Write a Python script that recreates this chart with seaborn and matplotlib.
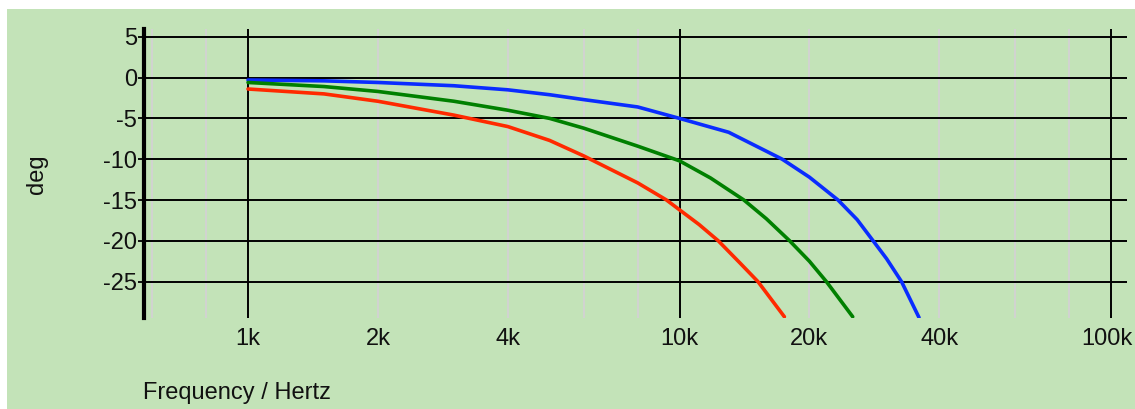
import numpy as np
import pandas as pd
import matplotlib
import matplotlib.pyplot as plt
import matplotlib.transforms as mtransforms
import seaborn as sns
from matplotlib.patches import Rectangle
from matplotlib.ticker import FixedLocator, FixedFormatter

# phase curves (Hz, degrees)
blue_freq = [1000, 1500, 2000, 3000, 4000, 5000, 6000, 8000, 10000, 13000, 17300,
             20000, 23300, 25800, 28100, 30200, 32700, 35900]
blue_deg = [-0.3, -0.4, -0.6, -1.0, -1.5, -2.1, -2.7, -3.6, -5.0, -6.7, -10.0,
            -12.2, -15.0, -17.4, -20.0, -22.2, -25.0, -29.4]

green_freq = [1000, 1500, 2000, 3000, 4000, 5000, 6000, 8000, 10000, 11800, 14100, 15900,
              18000, 20000, 21900, 25200]
green_deg = [-0.6, -1.1, -1.7, -2.9, -4.0, -5.0, -6.2, -8.4, -10.2, -12.3, -15.0, -17.3,
             -20.0, -22.5, -25.0, -29.3]

red_freq = [1000, 1500, 2000, 3000, 4000, 5000, 6000, 8000, 9330, 10000, 11100, 12300,
            13800, 15200, 17500]
red_deg = [-1.4, -2.0, -2.9, -4.6, -6.0, -7.7, -9.6, -12.9, -15.0, -16.2, -18.0, -20.0,
           -22.7, -25.0, -29.3]

y_ticks = [5, 0, -5, -10, -15, -20, -25]
decade_ticks = [1000, 10000, 100000]
decade_labels = ["1k", "10k", "100k"]
minor_ticks = [600, 800, 2000, 4000, 6000, 8000, 20000, 40000, 60000, 80000]
minor_labels = ["", "", "2k", "4k", "", "", "20k", "40k", "", ""]

df = pd.concat([
    pd.DataFrame({"f": blue_freq, "deg": blue_deg, "curve": "a"}),
    pd.DataFrame({"f": green_freq, "deg": green_deg, "curve": "b"}),
    pd.DataFrame({"f": red_freq, "deg": red_deg, "curve": "c"}),
])
colors = {"a": "#0a2cff", "b": "#008000", "c": "#ff2a00"}

sns.set_style("white")
plt.rcParams["font.family"] = ["Liberation Sans", "DejaVu Sans"]
plt.rcParams["axes.unicode_minus"] = False

bg = "#c3e3b8"
W, H = 1135, 409
fig = plt.figure(figsize=(W / 100, H / 100), dpi=100)
fig.patch.set_facecolor("white")
fig.patches.append(Rectangle((7 / W, 0), 1, 400 / H, transform=fig.transFigure,
                             facecolor=bg, edgecolor="none", zorder=-5))

ax = fig.add_axes([144 / W, (H - 318) / H, 983 / W, 289 / H])
ax.set_facecolor(bg)

sns.lineplot(data=df, x="f", y="deg", hue="curve", palette=colors, linewidth=2.6,
             legend=False, ax=ax, zorder=5)

ax.set_xscale("log")
ax.set_xlim(574, 108900)
ax.set_ylim(-29.45, 5.95)

ax.xaxis.set_major_locator(FixedLocator(decade_ticks))
ax.xaxis.set_major_formatter(FixedFormatter(decade_labels))
ax.xaxis.set_minor_locator(FixedLocator(minor_ticks))
ax.xaxis.set_minor_formatter(FixedFormatter(minor_labels))
ax.set_yticks(y_ticks)
ax.set_yticklabels([str(v) for v in y_ticks])

ax.grid(which="major", axis="both", color="black", linewidth=1.4, zorder=1)
ax.grid(which="minor", axis="x", color="#d4d0d6", linewidth=1.2, zorder=0)
ax.set_axisbelow(True)

ax.tick_params(axis="x", which="both", length=0, pad=7, labelsize=17, colors="#111111")
ax.tick_params(axis="y", length=4, width=1.3, pad=1, labelsize=17, direction="out", color="black",
               labelcolor="#111111", left=True)

# last label sits a little left of its line so it is not cut off
last = ax.xaxis.get_majorticklabels()[-1]
last.set_transform(last.get_transform() + mtransforms.ScaledTranslation(-4 / 100, 0, fig.dpi_scale_trans))

for side in ["top", "right", "bottom"]:
    ax.spines[side].set_visible(False)
ax.spines["left"].set_linewidth(3)
ax.spines["left"].set_color("black")

ax.set_xlabel("")
ax.set_ylabel("")
fig.text(37 / W, 1 - 174 / H, "deg", rotation=90, ha="center", va="center", fontsize=17, color="#111111")
fig.text(143 / W, 1 - 393 / H, "Frequency / Hertz", ha="left", va="center", fontsize=17, color="#111111")

fig.savefig("out.png", dpi=100, facecolor=fig.get_facecolor())
